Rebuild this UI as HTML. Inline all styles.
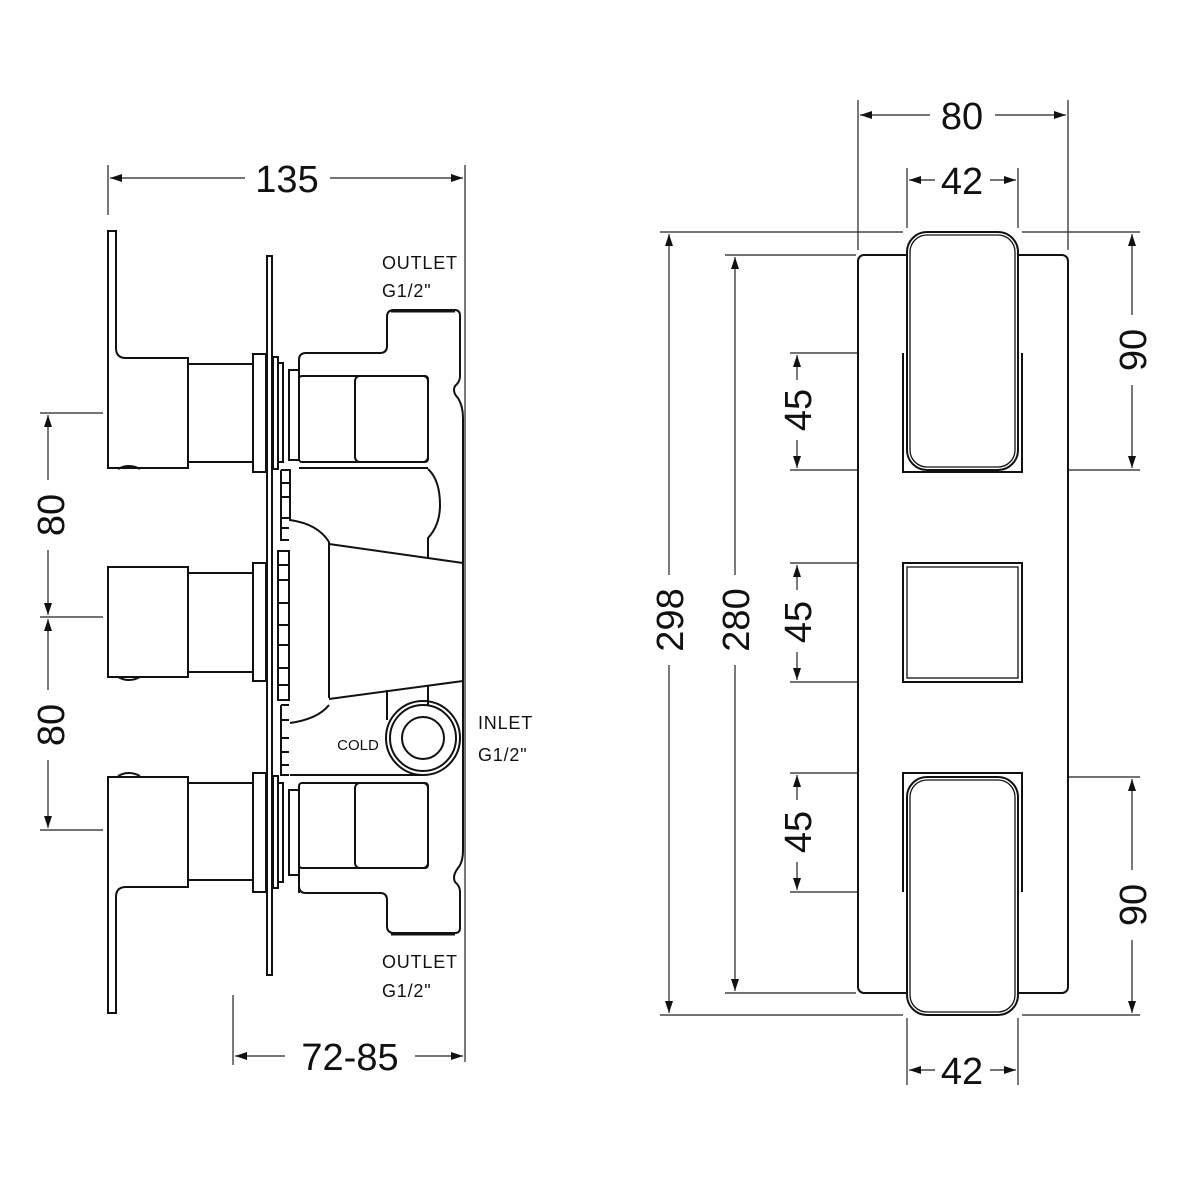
<!DOCTYPE html>
<html><head><meta charset="utf-8"><style>
html,body{margin:0;padding:0;background:#fff;}
svg{display:block;}
.l{fill:none;stroke:#111;stroke-width:2;}
.t{fill:none;stroke:#222;stroke-width:1.2;}
.d{font-family:"Liberation Sans",sans-serif;font-size:38px;fill:#111;}
.s{font-family:"Liberation Sans",sans-serif;font-size:18px;fill:#111;letter-spacing:0.8px;}
</style></head><body>
<svg width="1200" height="1200" viewBox="0 0 1200 1200" xmlns="http://www.w3.org/2000/svg">
<defs>
<marker id="a" viewBox="0 0 12 8" refX="12" refY="4" markerWidth="12" markerHeight="8" orient="auto-start-reverse" markerUnits="userSpaceOnUse"><path d="M0,0 L12,4 L0,8 z" fill="#111"/></marker>
</defs>

<line class="t" x1="108" y1="165" x2="108" y2="215"/>
<line class="t" x1="465" y1="165" x2="465" y2="1062"/>
<line class="t" x1="110" y1="178" x2="245" y2="178" marker-start="url(#a)"/>
<line class="t" x1="330" y1="178" x2="463" y2="178" marker-end="url(#a)"/>
<text class="d" x="287" y="192" text-anchor="middle">135</text>

<line class="t" x1="233" y1="995" x2="233" y2="1065"/>
<line class="t" x1="235" y1="1056" x2="285" y2="1056" marker-start="url(#a)"/>
<line class="t" x1="415" y1="1056" x2="463" y2="1056" marker-end="url(#a)"/>
<text class="d" x="350" y="1070" text-anchor="middle">72-85</text>

<line class="t" x1="40" y1="413" x2="103" y2="413"/>
<line class="t" x1="40" y1="617" x2="103" y2="617"/>
<line class="t" x1="40" y1="830" x2="103" y2="830"/>
<line class="t" x1="48" y1="415" x2="48" y2="480" marker-start="url(#a)"/>
<line class="t" x1="48" y1="550" x2="48" y2="615" marker-end="url(#a)"/>
<line class="t" x1="48" y1="619" x2="48" y2="690" marker-start="url(#a)"/>
<line class="t" x1="48" y1="760" x2="48" y2="828" marker-end="url(#a)"/>
<text class="d" transform="translate(64,515) rotate(-90)" text-anchor="middle">80</text>
<text class="d" transform="translate(64,725) rotate(-90)" text-anchor="middle">80</text>

<rect class="l" x="267" y="256" width="5" height="719"/>
<path class="l" d="M108,231 H116 V348 Q116,358 126,358 H188 V468 H108 Z"/>
<path class="l" d="M118,469 Q129,463 140,469"/>
<rect class="l" x="188" y="364" width="65" height="98"/>
<rect class="l" x="253" y="354" width="13" height="118"/>
<rect class="l" x="273" y="357" width="5" height="112"/>
<rect class="l" x="278" y="363" width="5" height="99"/>
<rect class="l" x="289" y="370" width="10" height="90"/>
<rect class="l" x="108" y="567" width="80" height="110"/>
<path class="l" d="M118,677 Q129,683 140,677"/>
<rect class="l" x="188" y="573" width="65" height="99"/>
<rect class="l" x="253" y="563" width="13" height="118"/>
<path class="l" d="M108,777 H188 V887 H126 Q116,887 116,897 V1013 H108 Z"/>
<path class="l" d="M118,776 Q129,770 140,776"/>
<rect class="l" x="188" y="783" width="65" height="97"/>
<rect class="l" x="253" y="773" width="13" height="119"/>
<rect class="l" x="273" y="776" width="5" height="112"/>
<rect class="l" x="278" y="783" width="5" height="99"/>
<rect class="l" x="289" y="790" width="10" height="85"/>
<path class="l" d="M281,470 V540 H289 M281,470 H289 M281,483 H289 M281,497 H289 M281,518 H289 M281,528 H289"/>
<path class="l" d="M278,551 V700 H289 V551 Z M278,565 H289 M278,580 H289 M278,603 H289 M278,625 H289 M278,645 H289 M278,668 H289 M278,685 H289"/>
<path class="l" d="M281,705 V775 H289 M281,705 H289 M281,720 H289 M281,738 H289 M281,752 H289 M281,765 H289"/>
<path class="l" d="M299,370 V360 Q299,353 306,353 H380 Q387,353 387,346 V317 Q387,310 394,310 H455 Q460,310 460,316 V376 Q460,382 455,386 Q452,392 458,398 Q463,406 463,418 V560"/>
<path class="l" d="M463,560 V850 Q463,862 458,868 Q452,876 455,882 Q460,886 460,892 V928 Q460,933 455,933 H394 Q387,933 387,926 V900 Q387,893 380,893 H306 Q299,893 299,886 V875"/>
<path class="l" d="M391,311 H455" style="stroke-width:3"/>
<path class="l" d="M391,934 H455" style="stroke-width:3"/>
<rect class="l" x="299" y="376" width="129" height="86" rx="3"/>
<rect class="l" x="355" y="376" width="73" height="86" rx="5"/>
<line class="l" x1="299" y1="468" x2="428" y2="468"/>
<path class="l" d="M290,469 V520 Q318,524 329,542 V698"/>
<path class="l" d="M428,469 Q440,480 440,505 Q440,525 428,538 V558"/>
<path class="l" d="M329,544 L463,563"/>
<path class="l" d="M329,699 L463,681"/>
<path class="l" d="M290,723 Q318,719 329,705"/>
<line class="l" x1="387" y1="690" x2="387" y2="720"/>
<line class="l" x1="428" y1="685" x2="428" y2="705"/>
<line class="l" x1="290" y1="775" x2="423" y2="775"/>
<circle class="l" cx="423" cy="738" r="37"/>
<circle class="l" cx="423" cy="738" r="33"/>
<circle class="l" cx="423" cy="738" r="21"/>
<rect class="l" x="299" y="783" width="129" height="85" rx="3"/>
<rect class="l" x="355" y="783" width="73" height="85" rx="5"/>
<line class="l" x1="299" y1="868" x2="299" y2="893"/>

<text class="s" x="382" y="269">OUTLET</text>
<text class="s" x="382" y="297">G1/2"</text>
<text class="s" x="382" y="968">OUTLET</text>
<text class="s" x="382" y="997">G1/2"</text>
<text class="s" x="478" y="729">INLET</text>
<text class="s" x="478" y="761">G1/2"</text>
<text x="358" y="750" text-anchor="middle" style="font-family:'Liberation Sans Narrow','Liberation Sans',sans-serif;font-size:15px;fill:#111">COLD</text>

<line class="t" x1="858" y1="100" x2="858" y2="250"/>
<line class="t" x1="1068" y1="100" x2="1068" y2="250"/>
<line class="t" x1="860" y1="115" x2="930" y2="115" marker-start="url(#a)"/>
<line class="t" x1="995" y1="115" x2="1066" y2="115" marker-end="url(#a)"/>
<text class="d" x="962" y="129" text-anchor="middle">80</text>

<line class="t" x1="907" y1="168" x2="907" y2="228"/>
<line class="t" x1="1018" y1="168" x2="1018" y2="228"/>
<line class="t" x1="909" y1="180" x2="935" y2="180" marker-start="url(#a)"/>
<line class="t" x1="990" y1="180" x2="1016" y2="180" marker-end="url(#a)"/>
<text class="d" x="962" y="194" text-anchor="middle">42</text>

<line class="t" x1="907" y1="1018" x2="907" y2="1085"/>
<line class="t" x1="1018" y1="1018" x2="1018" y2="1085"/>
<line class="t" x1="909" y1="1070" x2="935" y2="1070" marker-start="url(#a)"/>
<line class="t" x1="990" y1="1070" x2="1016" y2="1070" marker-end="url(#a)"/>
<text class="d" x="962" y="1084" text-anchor="middle">42</text>

<line class="t" x1="660" y1="232" x2="903" y2="232"/>
<line class="t" x1="660" y1="1015" x2="903" y2="1015"/>
<line class="t" x1="725" y1="255" x2="856" y2="255"/>
<line class="t" x1="725" y1="993" x2="856" y2="993"/>
<line class="t" x1="669" y1="234" x2="669" y2="575" marker-start="url(#a)"/>
<line class="t" x1="669" y1="665" x2="669" y2="1013" marker-end="url(#a)"/>
<text class="d" transform="translate(683,620) rotate(-90)" text-anchor="middle">298</text>
<line class="t" x1="735" y1="257" x2="735" y2="575" marker-start="url(#a)"/>
<line class="t" x1="735" y1="665" x2="735" y2="991" marker-end="url(#a)"/>
<text class="d" transform="translate(749,620) rotate(-90)" text-anchor="middle">280</text>

<line class="t" x1="1022" y1="232" x2="1140" y2="232"/>
<line class="t" x1="1022" y1="470" x2="1140" y2="470"/>
<line class="t" x1="1022" y1="777" x2="1140" y2="777"/>
<line class="t" x1="1022" y1="1015" x2="1140" y2="1015"/>
<line class="t" x1="1132" y1="234" x2="1132" y2="315" marker-start="url(#a)"/>
<line class="t" x1="1132" y1="385" x2="1132" y2="468" marker-end="url(#a)"/>
<text class="d" transform="translate(1146,350) rotate(-90)" text-anchor="middle">90</text>
<line class="t" x1="1132" y1="779" x2="1132" y2="870" marker-start="url(#a)"/>
<line class="t" x1="1132" y1="940" x2="1132" y2="1013" marker-end="url(#a)"/>
<text class="d" transform="translate(1146,905) rotate(-90)" text-anchor="middle">90</text>

<line class="t" x1="790" y1="353" x2="903" y2="353"/>
<line class="t" x1="790" y1="470" x2="903" y2="470"/>
<line class="t" x1="790" y1="563" x2="903" y2="563"/>
<line class="t" x1="790" y1="682" x2="903" y2="682"/>
<line class="t" x1="790" y1="773" x2="903" y2="773"/>
<line class="t" x1="790" y1="892" x2="903" y2="892"/>
<line class="t" x1="797" y1="355" x2="797" y2="380" marker-start="url(#a)"/>
<line class="t" x1="797" y1="440" x2="797" y2="468" marker-end="url(#a)"/>
<text class="d" transform="translate(811,410) rotate(-90)" text-anchor="middle">45</text>
<line class="t" x1="797" y1="565" x2="797" y2="590" marker-start="url(#a)"/>
<line class="t" x1="797" y1="652" x2="797" y2="680" marker-end="url(#a)"/>
<text class="d" transform="translate(811,622) rotate(-90)" text-anchor="middle">45</text>
<line class="t" x1="797" y1="775" x2="797" y2="800" marker-start="url(#a)"/>
<line class="t" x1="797" y1="862" x2="797" y2="890" marker-end="url(#a)"/>
<text class="d" transform="translate(811,832) rotate(-90)" text-anchor="middle">45</text>

<rect class="l" x="858" y="255" width="210" height="738" rx="6" style="fill:#fff"/>
<path class="l" d="M903,353 V472 H1022 V353" style="fill:#fff"/>
<rect class="l" x="907" y="232" width="111" height="238" rx="20" style="fill:#fff"/>
<rect x="910" y="235" width="105" height="232" rx="17" fill="none" stroke="#111" stroke-width="1.3"/>
<rect class="l" x="903" y="563" width="119" height="119"/>
<rect class="l" x="907" y="567" width="111" height="111" style="stroke-width:1.3"/>
<path class="l" d="M903,892 V773 H1022 V892" style="fill:#fff"/>
<rect class="l" x="907" y="777" width="111" height="238" rx="20" style="fill:#fff"/>
<rect x="910" y="780" width="105" height="232" rx="17" fill="none" stroke="#111" stroke-width="1.3"/>
</svg>
</body></html>
